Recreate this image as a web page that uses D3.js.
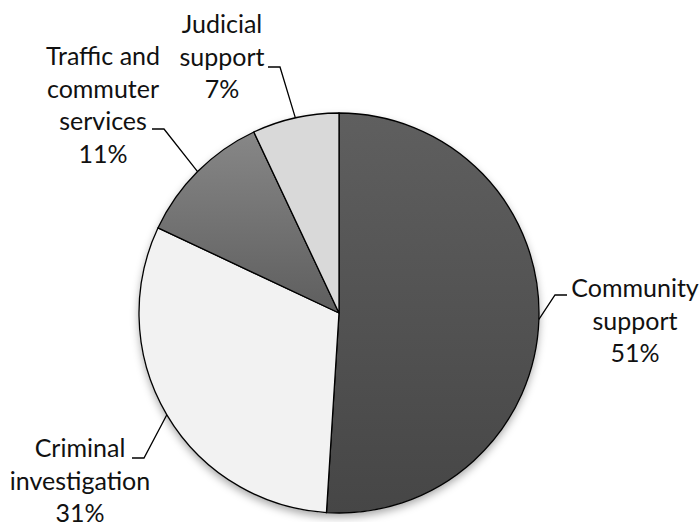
<!DOCTYPE html>
<meta charset="utf-8">
<script src="https://d3js.org/d3.v7.min.js"></script>
<style>
  body { margin: 0; background: #fff; }
  text { font-family: Lato, "Open Sans", sans-serif; fill: #111; }
</style>
<body>
<div id="chart"></div>
<script>
    // data
    const categories = ["Community support", "Criminal investigation", "Traffic and commuter services", "Judicial support"];
    const labelLines = [
        ["Community", "support"],
        ["Criminal", "investigation"],
        ["Traffic and", "commuter", "services"],
        ["Judicial", "support"]
    ];
    const values = [51, 31, 11, 7];

    // look
    const fillTop = ["#5f5f5f", "#f2f2f2", "#878787", "#d9d9d9"];
    const fillBottom = ["#464646", "#f2f2f2", "#5e5e5e", "#d9d9d9"];

    // label layout, relative to the pie centre
    // tx/ty: centre x and first baseline of text block, ex/ey: where leader leaves text, dir: elbow direction
    const labelLayout = [
        {tx: 296, ty: -16, ex: 228, ey: -18, dir: -1},
        {tx: -259, ty: 144, ex: -207, ey: 145, dir: 1},
        {tx: -236, ty: -248, ex: -187, ey: -184, dir: 1},
        {tx: -117, ty: -280, ex: -71, ey: -246, dir: 1}
    ];

    const W = 700, H = 522;
    const cx = 339, cy = 313, R = 200;
    const lineH = 32.5;

    const svg = d3.select("#chart").append("svg")
        .attr("width", W)
        .attr("height", H);

    const defs = svg.append("defs");
    values.forEach(function (v, i) {
        const g = defs.append("linearGradient")
            .attr("id", "grad" + i)
            .attr("x1", 0).attr("y1", 0)
            .attr("x2", 0).attr("y2", 1);
        g.append("stop").attr("offset", "0%").attr("stop-color", fillTop[i]);
        g.append("stop").attr("offset", "100%").attr("stop-color", fillBottom[i]);
    });
    const shadow = defs.append("filter")
        .attr("id", "shadow")
        .attr("x", "-20%").attr("y", "-20%")
        .attr("width", "140%").attr("height", "140%");
    shadow.append("feDropShadow")
        .attr("dx", 0).attr("dy", 4)
        .attr("stdDeviation", 4)
        .attr("flood-color", "#000")
        .attr("flood-opacity", 0.35);

    const g = svg.append("g")
        .attr("transform", "translate(" + cx + "," + cy + ")");

    const pie = d3.pie().sort(null).value(function (d) { return d; });
    const arcs = pie(values);
    const arc = d3.arc().innerRadius(0).outerRadius(R);
    const edge = d3.arc().innerRadius(R).outerRadius(R);

    g.append("circle")
        .attr("r", R)
        .attr("fill", "#fff")
        .attr("filter", "url(#shadow)");

    g.selectAll("path.slice")
        .data(arcs)
        .enter()
        .append("path")
        .attr("class", "slice")
        .attr("d", arc)
        .attr("fill", function (d, i) { return "url(#grad" + i + ")"; })
        .attr("stroke", "#000")
        .attr("stroke-width", 1.3)
        .attr("stroke-linejoin", "round");

    // leader lines
    g.selectAll("polyline.leader")
        .data(arcs)
        .enter()
        .append("polyline")
        .attr("class", "leader")
        .attr("fill", "none")
        .attr("stroke", "#000")
        .attr("stroke-width", 1.3)
        .attr("points", function (d, i) {
            const L = labelLayout[i];
            const a = (d.startAngle + d.endAngle) / 2;
            const px = R * Math.sin(a), py = -R * Math.cos(a);
            return [[L.ex, L.ey], [L.ex + 12 * L.dir, L.ey], [px, py]].join(" ");
        });

    // labels
    const labels = g.selectAll("text.label")
        .data(arcs)
        .enter()
        .append("text")
        .attr("class", "label")
        .attr("text-anchor", "middle")
        .style("font-size", "25px")
        .attr("x", function (d, i) { return labelLayout[i].tx; })
        .attr("y", function (d, i) { return labelLayout[i].ty; });

    labels.each(function (d, i) {
        const t = d3.select(this);
        const lines = labelLines[i].concat([values[i] + "%"]);
        lines.forEach(function (s, k) {
            t.append("tspan")
                .attr("x", labelLayout[i].tx)
                .attr("y", labelLayout[i].ty + k * lineH)
                .text(s);
        });
    });
</script>
</body>
